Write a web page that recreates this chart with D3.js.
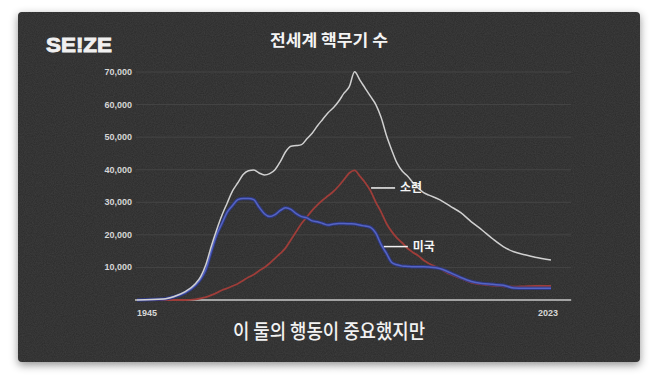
<!DOCTYPE html>
<html>
<head>
<meta charset="utf-8">
<script src="https://cdn.jsdelivr.net/npm/d3@7"></script>
<style>
  html, body { margin: 0; padding: 0; background: #fff; }
</style>
</head>
<body>
<div id="chart"></div>
<script>
// years
const years = [1945, 1950, 1952, 1954, 1956, 1957, 1958, 1959, 1960, 1961, 1962, 1963, 1964,
  1965, 1966, 1967, 1968, 1969, 1970, 1971, 1972, 1973, 1974, 1975, 1976, 1977, 1978, 1979,
  1980, 1981, 1982, 1983, 1984, 1985, 1986, 1987, 1988, 1989, 1990, 1991, 1992, 1993, 1994,
  1995, 1996, 1997, 1998, 1999, 2000, 2002, 2004, 2006, 2008, 2010, 2012, 2014, 2016, 2018,
  2020, 2023];

const world = [0, 300, 1100, 2500, 5000, 7200, 11000, 16500, 21500, 26000, 29800, 33500, 36000,
  38500, 39700, 39900, 39000, 38400, 38800, 40000, 42500, 45500, 47200, 47400, 47700, 49500, 51200, 53500,
  55500, 57500, 59000, 61000, 63500, 65500, 70100, 67500, 65000, 62500, 60000, 56000, 50500, 46000, 42000,
  39500, 38000, 36000, 34300, 33000, 32200, 30800, 28800, 26800, 24000, 21500, 18800, 16400, 14800, 13900,
  13100, 12300];

const ussr = [0, 0, 0, 0, 200, 500, 900, 1500, 2200, 3000, 3600, 4300, 5000,
  6000, 7000, 7800, 9000, 10000, 11300, 12800, 14300, 16000, 18500, 21000, 23500, 25500, 27500, 29200,
  30700, 32000, 33300, 35000, 37000, 39000, 39800, 38000, 36000, 33500, 30000, 27000, 23500, 21000, 19000,
  17500, 15800, 14600, 13600, 12200, 11200, 9700, 7900, 6600, 5300, 4800, 4400, 4200, 4100, 4200,
  4300, 4300];

const usa = [0, 300, 1000, 2200, 4500, 6500, 9500, 15000, 20000, 23500, 27000, 29000, 30800,
  31200, 31200, 30800, 28500, 26500, 25600, 26200, 27500, 28300, 27800, 26500, 25600, 25200, 24300, 24000,
  23500, 23000, 23300, 23500, 23500, 23400, 23300, 23000, 22700, 22300, 20500, 17000, 14300, 11500, 10800,
  10400, 10300, 10200, 10200, 10200, 10100, 9700, 8400, 6900, 5700, 5100, 4800, 4500, 3700, 3600,
  3600, 3600];

const yTicks = [10000, 20000, 30000, 40000, 50000, 60000, 70000];
const xTickLabels = [1945, 2023];

const title = '전세계 핵무기 수';
const subtitle = '이 둘의 행동이 중요했지만';
// label anchors: [text, year, value]
const labels = [['소련', 1989.1, 34400], ['미국', 1991.5, 16400]];

const width = 658, height = 386;

const svg = d3.select('#chart').append('svg')
  .attr('width', width)
  .attr('height', height);

const defs = svg.append('defs');

const shadow = defs.append('filter').attr('id', 'shadow')
  .attr('x', '-10%').attr('y', '-10%').attr('width', '120%').attr('height', '125%');
shadow.append('feDropShadow')
  .attr('dx', 0).attr('dy', 3).attr('stdDeviation', 4)
  .attr('flood-color', '#000').attr('flood-opacity', 0.45);

const noise = defs.append('filter').attr('id', 'noise');
noise.append('feTurbulence')
  .attr('type', 'fractalNoise').attr('baseFrequency', 0.9).attr('numOctaves', 2).attr('seed', 3);
noise.append('feColorMatrix')
  .attr('type', 'matrix')
  .attr('values', '0 0 0 0 1  0 0 0 0 1  0 0 0 0 1  0 0 0 0.1 0');

const panel = { x: 18, y: 12, w: 622, h: 350 };

svg.append('rect')
  .attr('x', panel.x).attr('y', panel.y)
  .attr('width', panel.w).attr('height', panel.h)
  .attr('rx', 4)
  .attr('fill', '#292929')
  .attr('filter', 'url(#shadow)');

svg.append('rect')
  .attr('x', panel.x).attr('y', panel.y)
  .attr('width', panel.w).attr('height', panel.h)
  .attr('rx', 4)
  .attr('filter', 'url(#noise)');

const x = d3.scaleLinear([1945, 2023], [137, 551]);
const y = d3.scaleLinear([0, 70000], [300, 72]);
const gridEnd = x(2026.8);

// grid
svg.append('g')
  .selectAll('line')
  .data(yTicks)
  .join('line')
  .attr('x1', x(1945) - 1)
  .attr('x2', gridEnd)
  .attr('y1', d => y(d))
  .attr('y2', d => y(d))
  .attr('stroke', '#454545')
  .attr('stroke-width', 1);

svg.append('line')
  .attr('x1', x(1945) - 2)
  .attr('x2', gridEnd)
  .attr('y1', y(0))
  .attr('y2', y(0))
  .attr('stroke', '#c8c8c8')
  .attr('stroke-width', 1.5);

// y labels
svg.append('g')
  .attr('font-family', '"Liberation Sans", Arial, sans-serif')
  .attr('font-weight', 'bold')
  .attr('font-size', 9)
  .attr('fill', '#d6d6d6')
  .attr('text-anchor', 'end')
  .selectAll('text')
  .data(yTicks)
  .join('text')
  .attr('x', x(1945) - 5)
  .attr('y', d => y(d) + 3)
  .text(d3.format(','));

// x labels
svg.append('g')
  .attr('font-family', '"Liberation Sans", Arial, sans-serif')
  .attr('font-weight', 'bold')
  .attr('font-size', 9)
  .attr('fill', '#d6d6d6')
  .selectAll('text')
  .data(xTickLabels)
  .join('text')
  .attr('x', (d, i) => i === 0 ? x(d) : x(d) + 7)
  .attr('text-anchor', (d, i) => i === 0 ? 'start' : 'end')
  .attr('y', y(0) + 16)
  .text(d => d);

const line = d3.line()
  .x((d, i) => x(years[i]))
  .y(d => y(d))
  .curve(d3.curveMonotoneX);

svg.append('path')
  .datum(ussr)
  .attr('fill', 'none')
  .attr('stroke', '#9e3d39')
  .attr('stroke-width', 1.8)
  .attr('d', line);

svg.append('path')
  .datum(usa)
  .attr('fill', 'none')
  .attr('stroke', '#2d3888')
  .attr('stroke-opacity', 0.85)
  .attr('stroke-width', 3.5)
  .attr('d', line);

svg.append('path')
  .datum(usa)
  .attr('fill', 'none')
  .attr('stroke', '#5564c4')
  .attr('stroke-width', 1.5)
  .attr('d', line);

svg.append('path')
  .datum(world)
  .attr('fill', 'none')
  .attr('stroke', '#d0d0d0')
  .attr('stroke-width', 1.5)
  .attr('d', line);

// series labels
const lab = svg.append('g')
  .selectAll('g')
  .data(labels)
  .join('g')
  .attr('transform', d => `translate(${x(d[1])},${y(d[2])})`);

lab.append('line')
  .attr('x1', 0).attr('x2', 24)
  .attr('stroke', '#f2f2f2')
  .attr('stroke-width', 1.5);

lab.append('text')
  .attr('x', 29)
  .attr('y', 4.5)
  .attr('font-family', '"Noto Sans CJK KR", sans-serif')
  .attr('font-weight', 'bold')
  .attr('font-size', 12)
  .attr('fill', '#f4f4f4')
  .text(d => d[0]);

// logo
svg.append('text')
  .attr('x', 46)
  .attr('y', 52)
  .attr('font-family', '"Liberation Sans", Arial, sans-serif')
  .attr('font-weight', 'bold')
  .attr('font-size', 21)
  .attr('fill', '#f0f0f0')
  .attr('stroke', '#f0f0f0')
  .attr('stroke-width', 0.9)
  .attr('textLength', 66)
  .attr('lengthAdjust', 'spacingAndGlyphs')
  .text('SE!ZE');

svg.append('text')
  .attr('x', 329)
  .attr('y', 46)
  .attr('text-anchor', 'middle')
  .attr('font-family', '"Noto Sans CJK KR", sans-serif')
  .attr('font-weight', 'bold')
  .attr('font-size', 16)
  .attr('fill', '#f4f4f4')
  .attr('textLength', 118)
  .attr('lengthAdjust', 'spacingAndGlyphs')
  .text(title);

svg.append('text')
  .attr('x', 329)
  .attr('y', 339)
  .attr('text-anchor', 'middle')
  .attr('font-family', '"Noto Sans CJK KR", sans-serif')
  .attr('font-weight', 500)
  .attr('font-size', 20)
  .attr('fill', '#f2f2f2')
  .attr('textLength', 192)
  .attr('lengthAdjust', 'spacingAndGlyphs')
  .text(subtitle);
</script>
</body>
</html>
